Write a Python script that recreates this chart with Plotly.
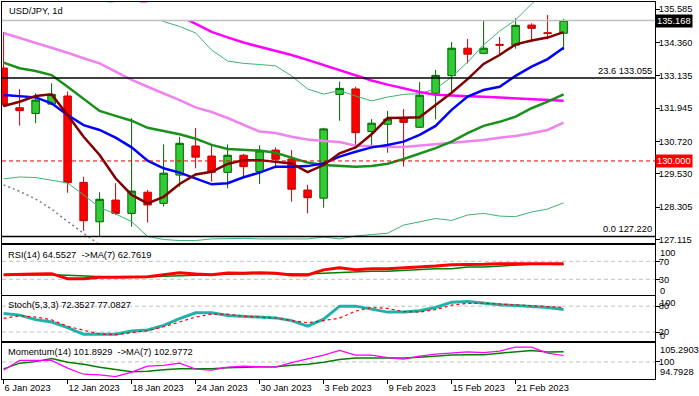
import plotly.graph_objects as go
from datetime import date

# ---------------- data ----------------
dates = ["2023-01-06", "2023-01-09", "2023-01-10", "2023-01-11", "2023-01-12", "2023-01-13",
         "2023-01-16", "2023-01-17", "2023-01-18", "2023-01-19", "2023-01-20", "2023-01-23",
         "2023-01-24", "2023-01-25", "2023-01-26", "2023-01-27", "2023-01-30", "2023-01-31",
         "2023-02-01", "2023-02-02", "2023-02-03", "2023-02-06", "2023-02-07", "2023-02-08",
         "2023-02-09", "2023-02-10", "2023-02-13", "2023-02-14", "2023-02-15", "2023-02-16",
         "2023-02-17", "2023-02-20", "2023-02-21", "2023-02-22", "2023-02-23", "2023-02-24"]

open_ = [133.42, 131.96, 131.75, 132.09, 132.39, 129.21, 127.76, 128.56, 128.07, 128.85, 128.44, 129.48,
         130.55, 130.18, 129.58, 130.21, 129.61, 130.40, 130.07, 128.93, 128.63, 132.45, 132.65, 131.08,
         131.35, 131.57, 131.24, 132.49, 133.14, 134.15, 133.96, 134.29, 134.26, 135.00, 134.72, 134.70]
high = [134.75, 132.64, 132.49, 132.86, 132.55, 129.42, 128.85, 129.18, 131.57, 128.93, 130.61, 130.89,
        131.21, 130.55, 130.61, 130.26, 130.58, 130.50, 130.40, 129.12, 131.22, 132.92, 132.73, 131.54,
        131.84, 131.91, 132.90, 133.35, 134.38, 134.49, 135.15, 134.56, 135.25, 135.07, 135.37, 135.23]
low = [131.99, 131.30, 131.39, 132.05, 128.83, 127.43, 127.22, 128.01, 127.58, 127.73, 128.32, 129.05,
       129.73, 129.24, 128.99, 129.42, 129.15, 129.73, 128.50, 128.07, 128.28, 131.48, 130.52, 130.55,
       130.30, 129.79, 131.22, 131.53, 132.55, 133.59, 133.93, 133.90, 134.13, 134.37, 134.48, 134.08]
close = [132.06, 131.85, 132.24, 132.45, 129.20, 127.80, 128.59, 128.07, 128.89, 128.38, 129.55, 130.65,
         130.14, 129.58, 130.21, 129.79, 130.37, 130.06, 128.96, 128.65, 131.18, 132.67, 131.04, 131.39,
         131.54, 131.42, 132.42, 133.15, 134.15, 133.93, 134.15, 134.26, 134.99, 134.88, 134.69, 135.168]

ma_maroon = [132.02, 132.18, 132.39, 132.45, 131.69, 130.89, 130.22, 129.36, 128.75, 128.44, 128.68, 129.15,
             129.50, 129.60, 129.89, 130.03, 130.03, 129.97, 129.91, 129.59, 129.85, 130.28, 130.50, 130.98,
             131.58, 131.59, 131.61, 132.06, 132.51, 133.01, 133.57, 133.90, 134.29, 134.43, 134.54, 134.74]
ma_blue = [132.43, 132.39, 132.34, 132.12, 131.69, 131.32, 131.14, 130.86, 130.50, 130.01, 129.73, 129.57,
           129.36, 129.14, 129.18, 129.40, 129.57, 129.79, 129.79, 129.81, 129.91, 130.16, 130.34, 130.50,
           130.59, 130.71, 130.96, 131.29, 131.88, 132.37, 132.61, 132.73, 133.13, 133.47, 133.75, 134.17]
ma_green = [133.62, 133.41, 133.31, 133.16, 132.73, 132.27, 131.84, 131.66, 131.48, 131.22, 131.11, 130.98,
            130.82, 130.59, 130.44, 130.40, 130.38, 130.30, 130.13, 129.94, 129.85, 129.81, 129.79, 129.81,
            129.90, 130.07, 130.26, 130.47, 130.71, 131.02, 131.29, 131.44, 131.63, 131.94, 132.18, 132.45]
ma_violet = [134.71, 134.53, 134.35, 134.18, 133.98, 133.78, 133.59, 133.29, 132.98, 132.73, 132.49, 132.24,
             131.97, 131.80, 131.58, 131.32, 131.08, 131.03, 130.89, 130.79, 130.73, 130.70, 130.56, 130.55,
             130.51, 130.51, 130.56, 130.62, 130.66, 130.71, 130.77, 130.85, 130.92, 131.02, 131.14, 131.41]
ma_magenta = [137.60, 137.40, 137.20, 137.00, 136.80, 136.60, 136.40, 136.20, 136.00, 135.80, 135.58, 135.35,
              135.04, 134.75, 134.55, 134.36, 134.20, 134.05, 133.90, 133.72, 133.53, 133.33, 133.13, 132.96,
              132.81, 132.67, 132.54, 132.44, 132.40, 132.38, 132.36, 132.33, 132.31, 132.27, 132.24, 132.22]
bb_upper = [136.50, 136.40, 136.30, 136.20, 136.10, 136.00, 135.90, 135.80, 135.60, 135.40, 135.13, 134.95,
            134.71, 134.08, 133.68, 133.59, 133.55, 133.50, 133.13, 132.65, 132.46, 132.59, 132.39, 132.21,
            132.35, 132.45, 132.48, 132.65, 133.09, 133.64, 134.27, 134.78, 135.19, 135.78, 136.30, 136.75]
bb_lower = [129.34, 129.41, 129.39, 129.30, 129.19, 128.75, 128.29, 128.05, 127.77, 127.22, 127.11, 127.07,
            127.07, 127.13, 127.15, 127.15, 127.13, 127.12, 127.13, 127.13, 127.20, 127.13, 127.24, 127.29,
            127.34, 127.64, 127.77, 127.88, 127.81, 128.01, 128.07, 127.97, 127.95, 128.12, 128.23, 128.46]
gray_line = [129.12, 128.88, 128.60, 128.23, 127.77, 127.33, 126.91] + [None] * 29

rsi = [40.2, 40.2, 41.8, 42.5, 31.3, 31.3, 34.4, 34.4, 35.1, 35.8, 40.2, 44.7,
       41.8, 40.2, 44.0, 43.3, 44.7, 43.3, 39.6, 39.6, 51.0, 55.8, 51.3, 53.6,
       53.6, 55.1, 58.0, 59.6, 62.4, 62.4, 63.3, 64.7, 64.7, 65.6, 65.6, 64.5527]
rsi_ma = [38.9, 39.8, 40.2, 40.2, 38.9, 37.3, 35.1, 34.4, 34.4, 35.8, 36.7, 38.4,
          39.6, 40.2, 41.1, 42.9, 43.3, 42.4, 41.8, 41.8, 43.6, 45.1, 47.8, 47.8,
          47.8, 50.0, 50.7, 53.6, 53.6, 57.3, 57.3, 59.6, 62.4, 63.6, 63.6, 62.7619]
stoch_k = [63.2, 59.2, 48.8, 43.1, 30.4, 14.7, 14.7, 14.7, 22.3, 24.6, 35.5, 51.2,
           64.5, 64.5, 58.1, 55.8, 55.1, 52.8, 46.5, 33.8, 50.0, 80.0, 80.0, 73.8,
           66.2, 66.2, 69.2, 77.0, 89.2, 90.8, 87.6, 83.0, 81.6, 80.0, 77.0, 72.3527]
stoch_d = [51.6, 58.1, 54.6, 48.4, 33.2, 24.6, 15.4, 13.8, 17.7, 23.0, 32.2, 43.8,
           54.6, 61.5, 61.5, 56.5, 55.3, 52.5, 46.5, 41.5, 46.5, 52.3, 68.5, 77.0,
           74.7, 67.3, 66.2, 71.9, 82.3, 86.5, 86.9, 85.1, 83.0, 80.0, 78.8, 77.0827]
momentum = [97.59, 100.44, 100.44, 100.44, 98.18, 96.41, 96.21, 95.68, 97.00, 98.76, 98.97, 99.65,
            97.88, 97.59, 98.47, 98.76, 98.62, 98.47, 99.79, 100.82, 102.00, 103.38, 102.00, 102.00,
            101.26, 100.82, 101.71, 102.29, 102.74, 102.97, 102.74, 103.18, 104.35, 104.35, 102.59, 101.8929]
momentum_ma = [97.97, 99.65, 100.09, 100.97, 99.94, 99.35, 98.47, 97.74, 97.15, 97.29, 97.74, 97.97,
               97.97, 98.03, 98.32, 98.47, 98.47, 98.62, 99.06, 99.35, 99.94, 100.74, 101.12, 101.12,
               101.12, 101.12, 101.41, 101.79, 102.00, 102.09, 102.09, 102.53, 103.03, 103.38, 102.88, 102.9772]

price_ticks = [135.585, 134.360, 133.135, 131.945, 130.720, 129.530, 128.305, 127.115]
last_price = 135.168
round_level = 130.000
fib_236 = 133.055
fib_0 = 127.220

# ---------------- figure ----------------
x = list(range(len(dates)))
FONT = "Liberation Sans"
FS = 9.3

fig = go.Figure()

fig.add_trace(go.Candlestick(
    x=x, open=open_, high=high, low=low, close=close,
    increasing=dict(line=dict(color="#006400", width=1), fillcolor="#32CD32"),
    decreasing=dict(line=dict(color="#C80000", width=1), fillcolor="#FF0000"),
    whiskerwidth=0, xaxis="x", yaxis="y", showlegend=False, hoverinfo="skip"))


def add_line(yvals, color, width, xa, ya, dash=None):
    fig.add_trace(go.Scatter(x=x, y=yvals, mode="lines",
                             line=dict(color=color, width=width, dash=dash),
                             xaxis=xa, yaxis=ya, showlegend=False, hoverinfo="skip"))


add_line(bb_upper, "#3CB371", 1, "x", "y")
add_line(bb_lower, "#3CB371", 1, "x", "y")
add_line(gray_line, "#708090", 1.5, "x", "y", "2px,3px")
add_line(ma_violet, "#EE82EE", 2.5, "x", "y")
add_line(ma_magenta, "#FF00FF", 2.5, "x", "y")
add_line(ma_green, "#1A8F1A", 2.5, "x", "y")
add_line(ma_blue, "#0000FF", 2.5, "x", "y")
add_line(ma_maroon, "#800000", 2.5, "x", "y")

add_line(rsi_ma, "#008000", 1.5, "x2", "y2")
add_line(rsi, "#FF0000", 3, "x2", "y2")

add_line(stoch_k, "#20B2AA", 3, "x3", "y3")
add_line(stoch_d, "#FF0000", 1.2, "x3", "y3", "3px,3px")

add_line(momentum_ma, "#008000", 1.5, "x4", "y4")
add_line(momentum, "#FF00FF", 1.2, "x4", "y4")

W, H = 699, 396
MT, MB = 2, 17
PH = H - MT - MB  # plot height in px


def frac(ypx):
    return (H - MB - ypx) / PH


xr = [-0.1, -0.1 + 653 / 16]
tick_idx = list(range(0, len(dates), 4))
tick_text = []
for i in tick_idx:
    d = date.fromisoformat(dates[i])
    tick_text.append(f"{d.day} {d.strftime('%b %Y')}")

axis_common = dict(showline=True, mirror=True, linecolor="black", linewidth=1,
                   showgrid=False, zeroline=False, automargin=False)
tfont = dict(family=FONT, size=FS, color="black")
ytick = dict(ticks="outside", ticklen=4, tickcolor="black", tickfont=tfont, ticklabelstandoff=-3)

layout = dict(
    width=W, height=H,
    margin=dict(l=2, r=44, t=MT, b=MB, pad=0),
    paper_bgcolor="white", plot_bgcolor="white",
    font=dict(family=FONT, size=FS, color="black"),
    boxgap=0.33,
    showlegend=False,
    xaxis=dict(domain=[0, 1], range=xr, anchor="y", showticklabels=False, ticks="",
               rangeslider=dict(visible=False), **axis_common),
    xaxis2=dict(domain=[0, 1], range=xr, anchor="y2", showticklabels=False, ticks="", **axis_common),
    xaxis3=dict(domain=[0, 1], range=xr, anchor="y3", showticklabels=False, ticks="", **axis_common),
    xaxis4=dict(domain=[0, 1], range=xr, anchor="y4", tickmode="array", tickvals=tick_idx,
                ticktext=tick_text, ticks="outside", ticklen=4, tickcolor="black",
                ticklabelposition="outside right", tickfont=tfont, **axis_common),
    yaxis=dict(domain=[frac(243), 1], range=[126.98, 135.85], anchor="x", side="right",
               tickmode="array", tickvals=price_ticks, ticktext=[f"{v:.3f}" for v in price_ticks],
               **ytick, **axis_common),
    yaxis2=dict(domain=[frac(294.7), frac(244.7)], range=[-4.2, 106.9], anchor="x2", side="right",
                tickmode="array", tickvals=[70, 30], ticktext=["70", "30"], **ytick, **axis_common),
    yaxis3=dict(domain=[frac(341.3), frac(295.5)], range=[-1.5, 104.7], anchor="x3", side="right",
                tickmode="array", tickvals=[80, 20], ticktext=["80", "20"], **ytick, **axis_common),
    yaxis4=dict(domain=[0, frac(343)], range=[95.0, 105.55], anchor="x4", side="right",
                tickmode="array", tickvals=[100], ticktext=["100"], **ytick, **axis_common),
)

shapes = [
    # white title strip covering the top-left
    dict(type="rect", xref="x", yref="y", x0=-0.02, x1=29.5, y0=135.19, y1=135.83,
         fillcolor="white", line=dict(width=0), layer="above"),
    dict(type="line", xref="paper", yref="y", x0=0, x1=1, y0=last_price, y1=last_price,
         line=dict(color="#C0C0C0", width=1.5), layer="above"),
    dict(type="line", xref="paper", yref="y", x0=0, x1=1, y0=fib_236, y1=fib_236,
         line=dict(color="black", width=1.5), layer="above"),
    dict(type="line", xref="paper", yref="y", x0=0, x1=1, y0=fib_0, y1=fib_0,
         line=dict(color="black", width=1.5), layer="above"),
    dict(type="line", xref="paper", yref="y", x0=0, x1=1, y0=round_level, y1=round_level,
         line=dict(color="#E00000", width=1, dash="4px,3px"), layer="above"),
]
for ya, lv in [("y2", 70), ("y2", 30), ("y3", 80), ("y3", 20), ("y4", 100)]:
    shapes.append(dict(type="line", xref="paper", yref=ya, x0=0, x1=1, y0=lv, y1=lv,
                       line=dict(color="#C0C0C0", width=1, dash="4px,3px"), layer="below"))
layout["shapes"] = shapes

ann = []
ann.append(dict(text="USD/JPY, 1d", xref="paper", yref="paper", x=0, xshift=5, xanchor="left",
                y=frac(11), yanchor="middle", showarrow=False, font=tfont))
ann.append(dict(text="RSI(14) 64.5527\u00a0 ->MA(7) 62.7619", xref="paper", yref="paper", x=0, xshift=4,
                xanchor="left", y=frac(254.7), yanchor="middle", showarrow=False, font=tfont))
ann.append(dict(text="Stoch(5,3,3) 72.3527 77.0827", xref="paper", yref="paper", x=0, xshift=4,
                xanchor="left", y=frac(305.3), yanchor="middle", showarrow=False, font=tfont))
ann.append(dict(text="Momentum(14) 101.8929\u00a0 ->MA(7) 102.9772", xref="paper", yref="paper", x=0,
                xshift=4, xanchor="left", y=frac(352), yanchor="middle", showarrow=False, font=tfont))
ann.append(dict(text="23.6 133.055", xref="paper", yref="y", x=1, xshift=-1, xanchor="right",
                y=fib_236, yanchor="bottom", showarrow=False, font=tfont))
ann.append(dict(text="0.0 127.220", xref="paper", yref="y", x=1, xshift=-1, xanchor="right",
                y=fib_0, yanchor="bottom", showarrow=False, font=tfont))
ann.append(dict(text=f"{last_price:.3f}", xref="paper", yref="y", x=1, xanchor="left", y=last_price,
                yanchor="middle", showarrow=False, bgcolor="black", borderpad=1,
                font=dict(family=FONT, size=FS, color="white")))
ann.append(dict(text=f"{round_level:.3f}", xref="paper", yref="y", x=1, xanchor="left", y=round_level,
                yanchor="middle", showarrow=False, bgcolor="#FF0000", borderpad=1,
                font=dict(family=FONT, size=FS, color="white")))
# extreme scale labels, kept inside their panels (MT4 style)
for ypx, txt in [(252.7, "100"), (290.5, "0"), (303.0, "100"), (336.0, "0"),
                 (350.3, "105.2903"), (372.3, "94.7928")]:
    ann.append(dict(text=txt, xref="paper", yref="paper", x=1, xshift=3, xanchor="left", y=frac(ypx),
                    yanchor="middle", showarrow=False, font=tfont))
layout["annotations"] = ann

fig.update_layout(**layout)
fig.write_html("out.html", config={"displayModeBar": False, "staticPlot": True},
               post_script="document.body.style.margin='0px';"
                           "document.body.style.overflow='hidden';")
